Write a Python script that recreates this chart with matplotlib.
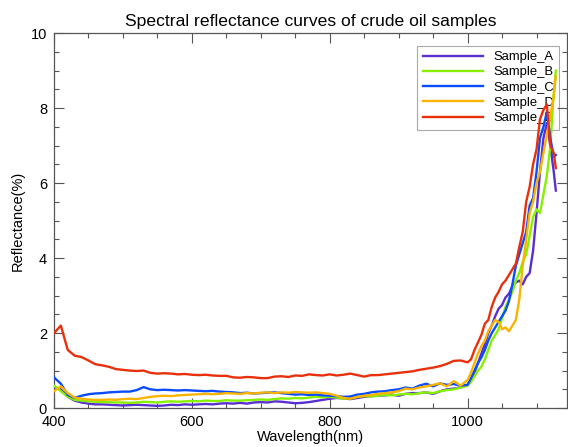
import matplotlib
matplotlib.use("Agg")
import matplotlib.pyplot as plt
from matplotlib.ticker import MultipleLocator

# --- data (wavelength in nm, reflectance in %) ---
wavelength = list(range(400, 1001, 10)) + list(range(1005, 1126, 5)) + [1128]

sample_a = [0.55, 0.50, 0.30, 0.20, 0.15, 0.12, 0.10, 0.10, 0.09, 0.08,
            0.07, 0.08, 0.09, 0.08, 0.07, 0.06, 0.07, 0.09, 0.08, 0.10,
            0.09, 0.10, 0.11, 0.10, 0.12, 0.13, 0.12, 0.14, 0.12, 0.15,
            0.16, 0.15, 0.18, 0.17, 0.15, 0.13, 0.14, 0.16, 0.19, 0.22,
            0.25, 0.27, 0.26, 0.24, 0.27, 0.30, 0.32, 0.33, 0.34, 0.36,
            0.33, 0.38, 0.40, 0.40, 0.42, 0.38, 0.45, 0.50, 0.52, 0.55,
            0.62,
            0.75, 0.95, 1.20, 1.45, 1.70, 2.00, 2.20, 2.45, 2.65, 2.75,
            2.95, 3.05, 3.25, 3.35, 3.40, 3.30, 3.50, 3.60, 4.20, 5.20,
            6.30, 7.20, 7.60, 7.00, 6.30, 5.80]

sample_b = [0.60, 0.45, 0.30, 0.22, 0.20, 0.18, 0.17, 0.16, 0.16, 0.15,
            0.15, 0.14, 0.15, 0.17, 0.16, 0.15, 0.17, 0.18, 0.17, 0.18,
            0.19, 0.18, 0.20, 0.19, 0.19, 0.21, 0.20, 0.20, 0.21, 0.22,
            0.23, 0.22, 0.24, 0.26, 0.25, 0.27, 0.26, 0.28, 0.30, 0.29,
            0.30, 0.28, 0.25, 0.27, 0.30, 0.32, 0.31, 0.33, 0.35, 0.34,
            0.36, 0.38, 0.37, 0.40, 0.42, 0.40, 0.45, 0.48, 0.50, 0.55,
            0.60,
            0.70, 0.85, 1.00, 1.10, 1.30, 1.55, 1.80, 1.95, 2.10, 2.40,
            2.70, 2.90, 3.10, 3.40, 3.60, 3.90, 4.10, 4.60, 5.10, 5.30,
            5.20, 5.70, 6.20, 7.00, 8.40, 9.00]

sample_c = [0.82, 0.65, 0.35, 0.27, 0.33, 0.37, 0.39, 0.40, 0.42, 0.43,
            0.44, 0.44, 0.48, 0.56, 0.50, 0.48, 0.49, 0.48, 0.47, 0.48,
            0.47, 0.46, 0.45, 0.46, 0.44, 0.43, 0.42, 0.40, 0.41, 0.39,
            0.40, 0.41, 0.42, 0.40, 0.38, 0.36, 0.37, 0.35, 0.36, 0.34,
            0.33, 0.32, 0.30, 0.31, 0.36, 0.38, 0.42, 0.44, 0.45, 0.48,
            0.50, 0.55, 0.52, 0.60, 0.65, 0.58, 0.66, 0.62, 0.64, 0.60,
            0.62,
            0.80, 1.00, 1.20, 1.35, 1.55, 1.80, 2.00, 2.15, 2.30, 2.45,
            2.60, 2.85, 3.30, 3.80, 4.10, 4.40, 4.70, 5.40, 5.60, 6.30,
            7.20, 7.50, 7.90, 7.20, 6.70, 6.75]

sample_d = [0.45, 0.58, 0.40, 0.28, 0.25, 0.23, 0.22, 0.22, 0.23, 0.22,
            0.24, 0.25, 0.24, 0.27, 0.30, 0.32, 0.33, 0.32, 0.34, 0.35,
            0.36, 0.37, 0.38, 0.37, 0.38, 0.40, 0.39, 0.38, 0.40, 0.39,
            0.41, 0.42, 0.40, 0.42, 0.41, 0.43, 0.42, 0.41, 0.42, 0.40,
            0.38, 0.33, 0.27, 0.25, 0.30, 0.33, 0.35, 0.38, 0.40, 0.42,
            0.45, 0.52, 0.50, 0.55, 0.58, 0.62, 0.66, 0.58, 0.72, 0.60,
            0.75,
            0.95, 1.20, 1.45, 1.65, 1.80, 2.05, 2.20, 2.35, 2.30, 2.10,
            2.15, 2.05, 2.20, 2.35, 2.90, 3.80, 4.50, 5.20, 5.50, 6.00,
            6.30, 6.80, 7.30, 7.80, 8.30, 8.85]

sample_e = [2.00, 2.20, 1.55, 1.40, 1.36, 1.27, 1.17, 1.14, 1.10, 1.04,
            1.02, 1.00, 0.99, 1.00, 0.94, 0.92, 0.93, 0.92, 0.90, 0.91,
            0.89, 0.88, 0.89, 0.87, 0.86, 0.86, 0.82, 0.81, 0.83, 0.82,
            0.80, 0.80, 0.84, 0.85, 0.83, 0.87, 0.86, 0.90, 0.88, 0.87,
            0.90, 0.87, 0.89, 0.92, 0.88, 0.84, 0.88, 0.88, 0.90, 0.92,
            0.94, 0.96, 0.98, 1.02, 1.05, 1.08, 1.12, 1.18, 1.26, 1.27,
            1.22,
            1.30, 1.55, 1.75, 1.95, 2.25, 2.35, 2.70, 2.95, 3.10, 3.30,
            3.40, 3.55, 3.70, 3.85, 4.30, 4.70, 5.50, 5.90, 6.50, 6.90,
            7.70, 7.95, 8.10, 7.00, 6.80, 6.40]

labels = ["Sample_A", "Sample_B", "Sample_C", "Sample_D", "Sample_E"]
colors = ["#5a2fd2", "#86f000", "#0a4cff", "#f8b400", "#e8300c"]

plt.rcParams['font.family'] = ['Liberation Sans', 'DejaVu Sans']

fig = plt.figure(figsize=(5.68, 4.47), dpi=100)
ax = fig.add_axes([0.095, 0.087, 0.903, 0.839])

for y, lab, c in zip([sample_a, sample_b, sample_c, sample_d, sample_e], labels, colors):
    ax.plot(wavelength, y, color=c, lw=1.7, label=lab, zorder=3)

ax.set_xlim(400, 1144)
ax.set_ylim(0, 10)
ax.xaxis.set_major_locator(MultipleLocator(200))
ax.xaxis.set_minor_locator(MultipleLocator(50))
ax.yaxis.set_major_locator(MultipleLocator(2))
ax.yaxis.set_minor_locator(MultipleLocator(0.5))

edge = "#555555"
for s in ax.spines.values():
    s.set_color(edge)
    s.set_linewidth(0.9)
ax.tick_params(which='both', direction='in', top=True, right=True,
               color=edge, labelsize=10.5, pad=5)
ax.tick_params(which='major', length=7.5, width=0.8)
ax.tick_params(which='minor', length=3.8, width=0.8)

ax.set_xlabel("Wavelength(nm)", fontsize=10.5, labelpad=1)
ax.set_ylabel("Reflectance(%)", fontsize=10.5, labelpad=4)
ax.set_title("Spectral reflectance curves of crude oil samples", fontsize=12.6, pad=5)

leg = ax.legend(loc='upper right', bbox_to_anchor=(0.985, 0.966), fontsize=9.4,
                handlelength=4.6, labelspacing=0.24, borderpad=0.4,
                handletextpad=0.8, borderaxespad=0, fancybox=False,
                framealpha=1, facecolor='none', edgecolor='#aaaaaa')
leg.get_frame().set_linewidth(0.8)
leg.set_zorder(1)

fig.savefig("out.png", dpi=100)
